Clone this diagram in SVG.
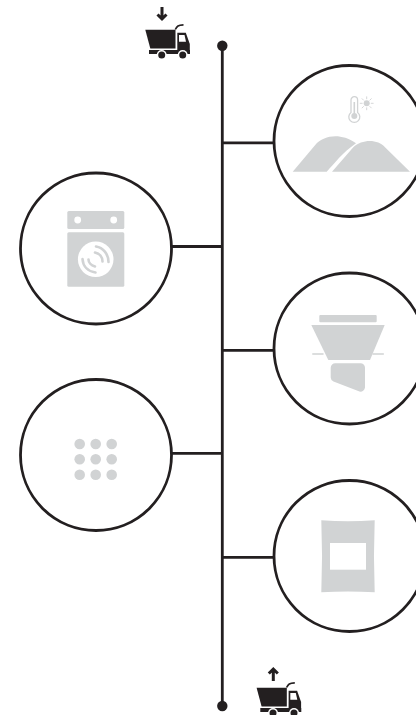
<svg xmlns="http://www.w3.org/2000/svg" width="416" height="715" viewBox="0 0 416 715">
<style>
.line{fill:none;stroke:#231f20;stroke-width:2.8}
.ring{fill:#fff;stroke:#231f20;stroke-width:2.8}
.ico{fill:#d1d3d4}
.cut{fill:#fff}
.ico-line{fill:none;stroke:#d1d3d4;stroke-linecap:round}
.k{fill:#231f20}
.arrow{fill:none;stroke:#231f20;stroke-width:3}
</style>
<defs>
<g id="truck">
<path class="k" d="M145.300 29.800H175.500V48.500H150.300Z"/>
<path d="M175.300 29.500C177 26 178 25 183.500 24.800" fill="none" stroke="#231f20" stroke-width="1.700"/>
<path class="k" d="M177.300 32.800H185.800L189.800 44V50H177.300Z"/>
<path class="cut" d="M179 35H184.500L186 41.700H179Z"/>
<rect class="k" x="149" y="50" width="41" height="4"/>
<circle class="cut" cx="161.700" cy="55" r="5"/>
<circle class="cut" cx="182.700" cy="55" r="5"/>
<circle class="k" cx="161.700" cy="55" r="3.500"/>
<circle class="k" cx="182.700" cy="55" r="3.500"/>
</g>
</defs>
<g id="connectors">
<path class="line" d="M222.300 45.700V706.500M222.300 142.800H280M222.300 246.500H165M222.300 350.300H280M222.300 453.300H165M222.300 557.300H280"/>
<circle class="k" cx="222.300" cy="45.700" r="5.200"/>
<circle class="k" cx="222.300" cy="706" r="5.200"/>
</g>
<g id="truck-in">
<use href="#truck"/>
<path class="arrow" d="M162 7V19M157.500 14.500L162 19L166.500 14.500"/>
</g>
<g id="drying">
<circle class="ring" cx="349.500" cy="141" r="75.500"/>
<path class="ico" d="M292.700 171.700L316.700 143.300C323 137 339 131 356 143.300C342 153 335 163 326.700 171.700Z"/>
<path class="ico" d="M332 171.700L353.300 147.300C362 139 378 139 385 147.300L410 171.700Z"/>
<path d="M351 112.500V100A3.300 3.300 0 0 1 357.600 100V112.500A5.500 5.500 0 1 1 351 112.500Z" fill="#fff" stroke="#d1d3d4" stroke-width="1.300"/>
<circle class="ico" cx="354.300" cy="116" r="3"/>
<rect class="ico" x="353.500" y="102" width="1.600" height="12"/>
<circle class="ico" cx="366.700" cy="103.300" r="3"/>
<path class="ico-line" stroke-width="0.900" d="M366.700 96.800V98.800M366.700 107.800V109.800M360.200 103.300H362.200M371.200 103.300H373.200M362.100 98.700L363.500 100.100M369.900 106.500L371.300 107.900M362.100 107.900L363.500 106.500M369.900 100.100L371.300 98.700"/>
</g>
<g id="washer">
<circle class="ring" cx="96" cy="248.500" r="75.500"/>
<rect class="ico" x="67.300" y="211" width="57" height="18" rx="1.500"/>
<rect class="ico" x="67.300" y="232.300" width="57" height="54.500" rx="1.500"/>
<circle class="cut" cx="77.700" cy="220" r="3.400"/>
<circle class="cut" cx="113.700" cy="220" r="3.400"/>
<circle class="cut" cx="95.700" cy="259.300" r="17.800"/>
<path class="ico-line" stroke-width="2.600" d="M96 246.500C103 247.500 108.500 254 108.500 262"/>
<path class="ico-line" stroke-width="2.600" d="M95 252.500C99.500 253.500 102.500 257 102.500 261.500"/>
<path class="ico-line" stroke-width="2.600" d="M95.500 272.500C88 271.500 83 266.500 82.500 259"/>
<path class="ico-line" stroke-width="2.600" d="M95 266.500C91 265.500 88.500 262.500 88.500 259.500"/>
</g>
<g id="hopper">
<circle class="ring" cx="349.500" cy="348.500" r="75.500"/>
<rect class="ico" x="319.300" y="315" width="57.400" height="7.300" rx="1"/>
<path class="ico" d="M311.300 325H384.700L370 360H328.300Z"/>
<path class="ico-line" stroke-width="1.500" d="M312.800 354H323M373 354H383.300"/>
<path class="ico" d="M335.500 363.300H360.500A4.500 4.500 0 0 1 365 367.800V387.500A4.500 4.500 0 0 1 359.500 391.500L333.500 381.500A4.500 4.500 0 0 1 330.700 377.500V367.800A4.500 4.500 0 0 1 335.500 363.300Z"/>
</g>
<g id="grid">
<circle class="ring" cx="96" cy="455" r="75.500"/>
<g class="ico">
<circle cx="79.700" cy="444" r="5.300"/><circle cx="95.700" cy="444" r="5.300"/><circle cx="111.700" cy="444" r="5.300"/>
<circle cx="79.700" cy="459.300" r="5.300"/><circle cx="95.700" cy="459.300" r="5.300"/><circle cx="111.700" cy="459.300" r="5.300"/>
<circle cx="79.700" cy="474.700" r="5.300"/><circle cx="95.700" cy="474.700" r="5.300"/><circle cx="111.700" cy="474.700" r="5.300"/>
</g>
</g>
<g id="bag">
<circle class="ring" cx="349.500" cy="556" r="75.500"/>
<path class="ico" d="M321.300 520.300Q348 522 374.700 520.300Q373.200 556 374.700 592.300Q348 590.600 321.300 592.300Q322.800 556 321.300 520.300Z"/>
<rect class="cut" x="330" y="543" width="36" height="26.700"/>
</g>
<g id="truck-out">
<use href="#truck" x="111.300" y="658"/>
<path class="arrow" d="M273.300 669V681M268.800 673.500L273.300 669L277.800 673.500"/>
</g>
</svg>
